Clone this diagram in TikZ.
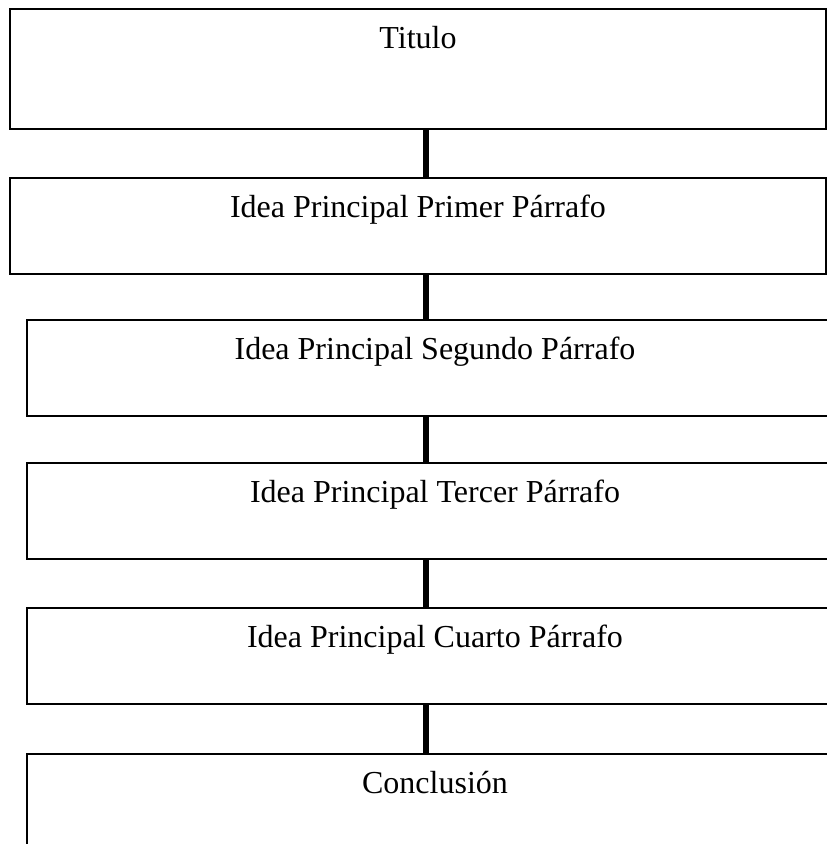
\documentclass[tikz,border=0pt]{standalone}
\usepackage{fontspec}
\setmainfont{Liberation Serif}
\usepackage{tikz}

\begin{document}
\begin{tikzpicture}[x=0.75pt,y=-0.75pt,every text node part/.style={align=center},
box/.style={draw,line width=1.4pt,inner sep=0pt,anchor=north,minimum width=612pt,text height=30pt,text depth=42pt,font=\fontsize{24}{28}\selectfont},
conn/.style={line width=4.5pt}]
\clip (0,0) rectangle (827,844);
\coordinate (axis) at (426,0);
\node [box,text depth=60pt] (tit) at (418,8) {Titulo};
\node [box] (p1) at (418,177) {Idea Principal Primer P\'arrafo};
\node [box] (p2) at (435,319) {Idea Principal Segundo P\'arrafo};
\node [box] (p3) at (435,462) {Idea Principal Tercer P\'arrafo};
\node [box] (p4) at (435,607) {Idea Principal Cuarto P\'arrafo};
\node [box] (con) at (435,753) {Conclusi\'on};
\draw [conn] (tit.south -| axis) -- (p1.north -| axis);
\draw [conn] (p1.south -| axis) -- (p2.north -| axis);
\draw [conn] (p2.south -| axis) -- (p3.north -| axis);
\draw [conn] (p3.south -| axis) -- (p4.north -| axis);
\draw [conn] (p4.south -| axis) -- (con.north -| axis);
\end{tikzpicture}
\end{document}
